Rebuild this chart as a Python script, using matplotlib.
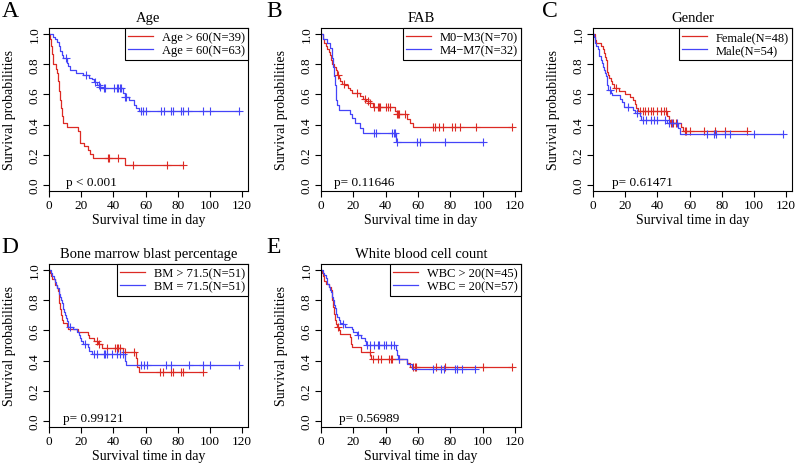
import numpy as np
import matplotlib
matplotlib.use("Agg")
import matplotlib.pyplot as plt

plt.rcParams['font.family'] = ['Liberation Serif', 'DejaVu Serif']

RED = '#dc2a24'
BLUE = '#4444f8'

# ---- data (event times, survival after each event, censor times)
# A: Age
age_gt60_t = [0.5, 1, 1.5, 2, 2.5, 4.5, 5, 5.5, 6, 6.5, 7, 7.5, 8, 8.5, 9, 11, 18, 19, 19.5, 22, 24, 25.5, 27.5, 47]
age_gt60_s = [0.97, 0.95, 0.92, 0.87, 0.80, 0.77, 0.74, 0.69, 0.67, 0.62, 0.56, 0.51, 0.46, 0.44, 0.41, 0.385, 0.36, 0.33, 0.28, 0.256, 0.23, 0.205, 0.18, 0.135]
age_gt60_c = [36.5, 37.2, 43, 52.5, 73.5, 83.5]
age_le60_t = [2.5, 3.5, 5, 6, 7, 8, 9, 11, 12, 13, 17, 21, 25, 27, 28, 30, 32, 33, 46, 47, 50, 53, 54, 56]
age_le60_s = [0.98, 0.97, 0.95, 0.92, 0.89, 0.86, 0.84, 0.81, 0.79, 0.76, 0.745, 0.73, 0.71, 0.70, 0.68, 0.665, 0.65, 0.64, 0.61, 0.585, 0.56, 0.53, 0.51, 0.487]
age_le60_c = [10.5, 23, 28.5, 31, 32, 34, 35, 40.5, 42, 43, 44, 45, 47.5, 48, 57, 58.4, 60.5, 69.4, 71.3, 75.9, 76.9, 82.3, 83.5, 86.6, 95.8, 99.9, 118.1]

# B: FAB
m03_t = [1, 1.5, 2, 3, 4, 5, 5.5, 6, 7, 8, 9, 10, 11, 12, 13, 15, 17, 18, 19, 24, 26, 28, 30, 32, 46, 47, 53, 55, 57]
m03_s = [0.986, 0.97, 0.94, 0.92, 0.90, 0.88, 0.86, 0.83, 0.80, 0.78, 0.76, 0.73, 0.71, 0.69, 0.67, 0.66, 0.64, 0.63, 0.611, 0.59, 0.57, 0.555, 0.54, 0.516, 0.49, 0.47, 0.44, 0.41, 0.385]
m03_c = [10.5, 14, 22, 27, 29, 30.5, 33, 35, 36, 36.6, 40.5, 41.5, 42.5, 47.3, 47.8, 48.3, 52, 69, 70.8, 73.2, 75.5, 81.1, 82.8, 86.1, 95.6, 118.1]
m47_t = [1, 3.5, 5.5, 6.5, 7, 7.5, 8, 8.5, 9, 9.5, 10, 11, 18, 19, 21, 24, 26, 46.5]
m47_s = [0.97, 0.94, 0.91, 0.875, 0.84, 0.78, 0.72, 0.66, 0.59, 0.56, 0.53, 0.50, 0.47, 0.444, 0.41, 0.375, 0.342, 0.285]
m47_c = [33, 34, 44, 45, 46, 47, 59.5, 61, 77, 100]

# C: Gender
female_t = [1, 1.5, 2, 5, 6, 7, 7.5, 8, 8.5, 9, 9.5, 10, 11, 12, 13, 16, 20, 23, 25, 26, 27, 28, 46, 47, 48, 55, 56]
female_s = [0.98, 0.96, 0.942, 0.92, 0.90, 0.875, 0.85, 0.83, 0.79, 0.75, 0.73, 0.71, 0.69, 0.67, 0.645, 0.625, 0.605, 0.585, 0.56, 0.535, 0.51, 0.489, 0.46, 0.43, 0.41, 0.385, 0.36]
female_c = [14, 29, 31, 32.5, 34, 36, 37, 40, 42, 44, 45.5, 48.5, 49.5, 51.5, 57, 58, 60, 69, 76, 82, 95.5]
male_t = [0.5, 1, 1.5, 2, 3, 3.5, 4, 5, 5.5, 6, 7, 7.5, 8, 8.5, 9, 9.5, 11, 11.5, 17, 18, 19, 25, 26, 29, 30, 46, 53, 54]
male_s = [0.98, 0.96, 0.94, 0.92, 0.90, 0.88, 0.855, 0.83, 0.81, 0.78, 0.76, 0.74, 0.72, 0.70, 0.665, 0.63, 0.61, 0.593, 0.57, 0.55, 0.516, 0.50, 0.476, 0.455, 0.433, 0.41, 0.375, 0.338]
male_c = [10.5, 22, 27.5, 31, 33, 36, 38, 39.5, 45, 47, 49, 52, 71, 75, 76.5, 82, 85, 100, 118]

# D: Bone marrow blast percentage
bm_gt_t = [0.5, 1, 2, 3.5, 4, 5, 5.5, 6, 6.5, 7, 7.5, 8, 8.5, 11, 12, 18, 24, 25, 28, 30.5, 33, 46, 54, 54.5, 55, 56]
bm_gt_s = [0.98, 0.96, 0.94, 0.92, 0.90, 0.88, 0.86, 0.83, 0.78, 0.74, 0.70, 0.67, 0.649, 0.63, 0.61, 0.589, 0.57, 0.55, 0.53, 0.51, 0.484, 0.455, 0.42, 0.39, 0.355, 0.327]
bm_gt_c = [30, 31, 36, 41, 42, 43, 44, 47, 53, 69, 71, 76, 77, 82, 83, 95.5]
bm_le_t = [1, 2, 3, 4, 4.5, 5, 6, 6.5, 7, 7.5, 8, 8.5, 9, 9.5, 10, 10.5, 11, 11.5, 12, 15, 17.5, 18.5, 19.5, 20, 21, 24, 25, 27, 47, 48]
bm_le_s = [0.98, 0.96, 0.94, 0.92, 0.90, 0.88, 0.86, 0.84, 0.82, 0.80, 0.78, 0.76, 0.74, 0.72, 0.70, 0.68, 0.66, 0.64, 0.625, 0.61, 0.59, 0.57, 0.55, 0.53, 0.51, 0.49, 0.465, 0.444, 0.40, 0.371]
bm_le_c = [13, 22.5, 28, 30, 34, 35, 36, 39, 42, 44, 46, 57, 59, 61, 73, 76, 87, 95.5, 100, 118]

# E: White blood cell count
wbc_gt_t = [0.5, 1, 2, 3, 5, 6, 6.5, 7, 7.5, 8, 8.5, 9, 10, 11, 12, 18, 18.5, 19, 25, 30.5, 31, 53, 55]
wbc_gt_s = [0.98, 0.96, 0.93, 0.909, 0.89, 0.87, 0.845, 0.80, 0.755, 0.71, 0.67, 0.64, 0.62, 0.60, 0.573, 0.555, 0.51, 0.487, 0.46, 0.435, 0.411, 0.385, 0.36]
wbc_gt_c = [10.5, 30, 32, 35, 37, 42, 43, 44, 48, 57, 58, 59, 71, 77, 100, 118]
wbc_le_t = [1, 2, 3, 3.5, 4, 5, 5.5, 6, 6.5, 7, 7.5, 8, 8.5, 9, 9.5, 10, 11, 12, 13, 15, 19, 20, 22, 25, 27, 28, 46.5, 47, 47.5, 53.5, 56]
wbc_le_s = [0.98, 0.965, 0.95, 0.93, 0.91, 0.89, 0.87, 0.855, 0.84, 0.82, 0.80, 0.77, 0.75, 0.73, 0.71, 0.69, 0.67, 0.65, 0.64, 0.625, 0.61, 0.59, 0.57, 0.55, 0.53, 0.504, 0.47, 0.44, 0.411, 0.375, 0.344]
wbc_le_c = [13.5, 23, 28.5, 30, 32.5, 35, 36, 39, 40.5, 43, 45, 48, 69, 74, 76, 83, 84, 87, 95.5]

W, H = 797, 464
fig = plt.figure(figsize=(W / 100, H / 100), dpi=100)


def add_panel(l, t, r, b):
    return fig.add_axes([l / W, 1 - b / H, (r - l) / W, (b - t) / H])


def km(ax, times, surv, cens, color, label):
    times = np.asarray(times, float)
    sv = np.concatenate([[1.0], surv])
    cens = np.asarray(cens, float)
    end = max(times.max(), cens.max())
    x = np.concatenate([[0.0], times, [end]])
    y = np.concatenate([sv, [sv[-1]]])
    ax.step(x, y, where='post', color=color, lw=0.9, label=label)
    cy = sv[np.searchsorted(times, cens, side='right')]
    ax.plot(cens, cy, ls='none', marker='+', ms=6, mew=0.8, color=color)


def style(ax, title, letter, lx, ly, ptext, px):
    ax.set_xlim(0, 123.7)
    ax.set_ylim(-0.04, 1.04)
    ax.set_xticks([0, 20, 40, 60, 80, 100, 120])
    ax.set_yticks([0.0, 0.2, 0.4, 0.6, 0.8, 1.0])
    ax.set_yticklabels(['0.0', '0.2', '0.4', '0.6', '0.8', '1.0'], rotation=90, va='center')
    ax.tick_params(length=4, width=0.8, labelsize=9.5, pad=2)
    for sp in ax.spines.values():
        sp.set_linewidth(0.8)
    ax.set_title(title, fontsize=10.5, pad=5)
    ax.set_xlabel('Survival time in day', fontsize=10, labelpad=1)
    ax.set_ylabel('Survival probabilities', fontsize=10, labelpad=9)
    ax.text(px, 0.02, ptext, fontsize=9.5, va='center', ha='left')
    leg = ax.legend(loc='upper right', borderaxespad=0, fancybox=False, framealpha=1,
                    edgecolor='black', fontsize=9, handlelength=2.0, handletextpad=0.7,
                    borderpad=0.25, labelspacing=0.1)
    leg.get_frame().set_linewidth(0.8)
    fig.text(lx / W, 1 - ly / H, letter, fontsize=17, va='top', ha='left')


# panel A
ax = add_panel(49, 29, 248, 192)
km(ax, age_gt60_t, age_gt60_s, age_gt60_c, RED, 'Age > 60(N=39)')
km(ax, age_le60_t, age_le60_s, age_le60_c, BLUE, 'Age = 60(N=63)')
style(ax, 'Age', 'A', 2, 1, 'p < 0.001', 10.8)

# panel B
ax = add_panel(321, 29, 521, 192)
km(ax, m03_t, m03_s, m03_c, RED, 'M0\u2212M3(N=70)')
km(ax, m47_t, m47_s, m47_c, BLUE, 'M4\u2212M7(N=32)')
style(ax, 'FAB', 'B', 266, 1, 'p= 0.11646', 7.9)

# panel C
ax = add_panel(593, 29, 792, 192)
km(ax, female_t, female_s, female_c, RED, 'Female(N=48)')
km(ax, male_t, male_s, male_c, BLUE, 'Male(N=54)')
style(ax, 'Gender', 'C', 542, 1, 'p= 0.61471', 12)

# panel D
ax = add_panel(49, 265, 248, 428)
km(ax, bm_gt_t, bm_gt_s, bm_gt_c, RED, 'BM > 71.5(N=51)')
km(ax, bm_le_t, bm_le_s, bm_le_c, BLUE, 'BM = 71.5(N=51)')
style(ax, 'Bone marrow blast percentage', 'D', 1, 237, 'p= 0.99121', 8.7)

# panel E
ax = add_panel(321, 265, 521, 428)
km(ax, wbc_gt_t, wbc_gt_s, wbc_gt_c, RED, 'WBC > 20(N=45)')
km(ax, wbc_le_t, wbc_le_s, wbc_le_c, BLUE, 'WBC = 20(N=57)')
style(ax, 'White blood cell count', 'E', 266, 237, 'p= 0.56989', 11.4)

fig.savefig('out.png', dpi=100)
